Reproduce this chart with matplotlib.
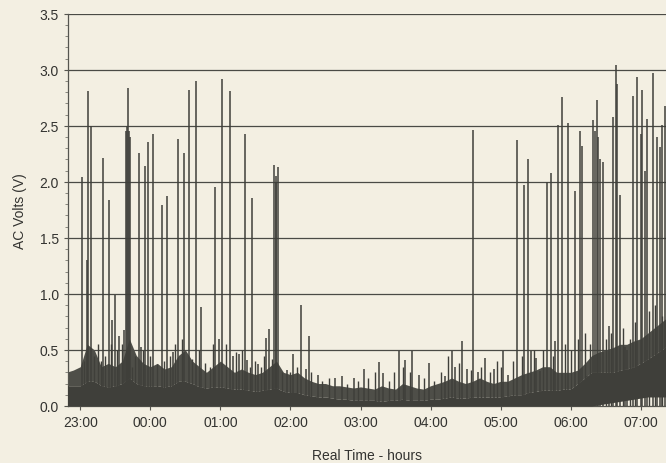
import matplotlib
matplotlib.use("Agg")
import matplotlib.pyplot as plt
import numpy as np

# time axis: hours after 23:00
tick_pos = [0, 1, 2, 3, 4, 5, 6, 7, 8]
tick_labels = ["23:00", "00:00", "01:00", "02:00", "03:00", "04:00", "05:00", "06:00", "07:00"]

# background noise envelope, sampled every 0.1 h from -0.2 h
env_t0 = -0.2
env_step = 0.1
env_floor = [0.18, 0.18,
             0.18, 0.22, 0.22, 0.18, 0.17, 0.18, 0.20, 0.25, 0.20, 0.18,
             0.18, 0.18, 0.17, 0.18, 0.22, 0.22, 0.20, 0.17, 0.16, 0.17,
             0.17, 0.16, 0.15, 0.15, 0.14, 0.13, 0.14, 0.15, 0.16, 0.13,
             0.12, 0.12, 0.10, 0.09, 0.08, 0.08, 0.07, 0.06, 0.06, 0.05,
             0.05, 0.05, 0.05, 0.04, 0.05, 0.05, 0.06, 0.05, 0.05, 0.05,
             0.06, 0.06, 0.07, 0.08, 0.07, 0.07, 0.08, 0.08, 0.08, 0.08,
             0.08, 0.09, 0.10, 0.10, 0.12, 0.13, 0.14, 0.14, 0.14, 0.15,
             0.15, 0.20, 0.25, 0.30, 0.30, 0.30, 0.30, 0.32, 0.33, 0.35,
             0.38, 0.42, 0.46, 0.50, 0.55]
env_top = [0.30, 0.32,
           0.35, 0.55, 0.50, 0.35, 0.38, 0.35, 0.40, 0.60, 0.45, 0.38,
           0.35, 0.38, 0.33, 0.35, 0.45, 0.50, 0.40, 0.35, 0.30, 0.35,
           0.40, 0.35, 0.30, 0.33, 0.30, 0.28, 0.30, 0.35, 0.40, 0.30,
           0.28, 0.30, 0.25, 0.22, 0.20, 0.20, 0.18, 0.18, 0.17, 0.16,
           0.17, 0.16, 0.15, 0.18, 0.16, 0.15, 0.20, 0.18, 0.16, 0.15,
           0.18, 0.20, 0.22, 0.25, 0.22, 0.20, 0.22, 0.25, 0.22, 0.20,
           0.22, 0.22, 0.25, 0.28, 0.30, 0.32, 0.35, 0.35, 0.30, 0.30,
           0.30, 0.32, 0.38, 0.45, 0.48, 0.50, 0.52, 0.55, 0.55, 0.58,
           0.60, 0.65, 0.70, 0.75, 0.80]
env_low = [0.0] * 76 + [0.01, 0.02, 0.03, 0.04, 0.05, 0.06, 0.07, 0.08, 0.08, 0.08, 0.08]

# large spikes (hours after 23:00, volts)
spike_t = [0.02, 0.10, 0.11, 0.15, 0.32, 0.41, 0.46, 0.50, 0.56, 0.62,
           0.65, 0.66, 0.68, 0.69, 0.71, 0.84, 0.87, 0.93, 0.97, 1.04,
           1.16, 1.24, 1.32, 1.40, 1.48, 1.55, 1.65, 1.73, 1.93, 1.98,
           2.03, 2.13, 2.18, 2.27, 2.35, 2.38, 2.45, 2.53, 2.65, 2.70,
           2.77, 2.79, 2.80, 2.82, 2.95, 3.04, 3.15, 3.22, 3.27, 3.40,
           3.63, 3.74, 3.91, 4.05, 4.26, 4.32, 4.55, 4.64, 4.74, 4.83,
           4.98, 5.21, 5.31, 5.35, 5.45, 5.52, 5.61, 5.68, 5.77, 5.90,
           6.04, 6.11, 6.24, 6.34, 6.39, 6.44, 6.51, 6.56, 6.66, 6.72,
           6.78, 6.82, 6.88, 6.96, 7.06, 7.13, 7.16, 7.23, 7.32, 7.35,
           7.38, 7.39, 7.42, 7.46, 7.55, 7.61, 7.64, 7.66, 7.71, 7.77,
           7.81, 7.89, 7.95, 8.00, 8.02, 8.06, 8.09, 8.17, 8.23, 8.27,
           8.31, 8.35]
spike_v = [2.04, 1.30, 2.81, 2.50, 2.21, 1.84, 0.77, 0.99, 0.62, 0.68,
           2.45, 2.50, 2.84, 2.45, 2.40, 2.26, 0.53, 2.14, 2.36, 2.43,
           1.79, 1.87, 0.48, 2.38, 2.26, 2.82, 2.90, 0.88, 1.95, 0.60,
           2.92, 2.81, 0.45, 0.46, 2.43, 0.41, 1.86, 0.37, 0.61, 0.69,
           2.15, 2.05, 2.00, 2.13, 0.32, 0.46, 0.90, 0.33, 0.62, 0.28,
           0.25, 0.27, 0.25, 0.33, 0.39, 0.29, 0.49, 0.41, 0.49, 0.28,
           0.38, 0.27, 0.49, 0.35, 0.58, 0.33, 2.46, 0.30, 0.43, 0.33,
           0.49, 0.28, 2.37, 1.97, 2.20, 0.49, 0.43, 0.31, 2.00, 2.08,
           0.58, 2.51, 2.76, 2.53, 1.92, 2.45, 2.32, 0.27, 2.55, 2.45,
           2.73, 2.40, 2.20, 2.18, 0.71, 2.58, 3.04, 2.87, 1.88, 0.53,
           0.50, 2.77, 2.94, 2.43, 2.82, 2.10, 2.56, 2.97, 2.40, 2.31,
           2.51, 2.68]

# small ripple spikes in the noise band
ripple_t = [0.05, 0.20, 0.25, 0.30, 0.36, 0.44, 0.53, 0.60, 0.74, 0.78,
            0.90, 1.00, 1.10, 1.20, 1.28, 1.35, 1.45, 1.60, 1.70, 1.78,
            1.85, 1.90, 2.08, 2.22, 2.31, 2.42, 2.50, 2.58, 2.62, 2.74,
            2.88, 3.00, 3.10, 3.30, 3.45, 3.55, 3.80, 3.97, 4.10, 4.20,
            4.40, 4.48, 4.60, 4.70, 4.90, 5.05, 5.15, 5.25, 5.40, 5.58,
            5.72, 5.85, 5.95, 6.00, 6.18, 6.30, 6.48, 6.60, 6.75, 6.92,
            7.00, 7.10, 7.20, 7.28, 7.50, 7.58, 7.75, 7.85, 7.92, 8.12,
            8.20, 8.30]
ripple_v = [0.40, 0.45, 0.55, 0.40, 0.45, 0.55, 0.50, 0.55, 0.35, 0.45,
            0.50, 0.45, 0.37, 0.40, 0.45, 0.55, 0.60, 0.42, 0.50, 0.38,
            0.35, 0.55, 0.55, 0.48, 0.50, 0.35, 0.40, 0.35, 0.45, 0.42,
            0.30, 0.30, 0.35, 0.30, 0.22, 0.25, 0.20, 0.22, 0.25, 0.30,
            0.22, 0.30, 0.35, 0.30, 0.25, 0.22, 0.30, 0.45, 0.38, 0.32,
            0.35, 0.30, 0.40, 0.35, 0.40, 0.45, 0.50, 0.50, 0.45, 0.55,
            0.50, 0.60, 0.65, 0.55, 0.60, 0.65, 0.70, 0.60, 0.75, 0.85,
            0.90, 0.80]

bg = "#f3efe2"
ink = "#3f3f3a"

plt.rcParams["font.family"] = ["Liberation Sans", "DejaVu Sans"]
fig = plt.figure(figsize=(6.66, 4.64), dpi=100, facecolor=bg)
ax = fig.add_axes([0.102, 0.123, 0.898, 0.845], facecolor=bg)

env_t = env_t0 + env_step * np.arange(len(env_floor))
ax.fill_between(env_t, env_floor, env_top, color="#4e4e48", lw=0, zorder=2)
ax.fill_between(env_t, env_low, env_floor, color=ink, lw=0, zorder=3)
ax.vlines(ripple_t, 0, ripple_v, colors=ink, lw=1.0, zorder=3)
ax.vlines(spike_t, 0, spike_v, colors=ink, lw=1.1, zorder=4)

ax.set_xlim(-0.176, 8.36)
ax.set_ylim(0, 3.5)
ax.set_yticks(np.arange(0, 3.51, 0.5))
ax.set_yticklabels([f"{v:.1f}" for v in np.arange(0, 3.51, 0.5)])
ax.set_yticks(np.arange(0, 3.51, 0.1), minor=True)
ax.set_xticks(tick_pos)
ax.set_xticklabels(tick_labels)
for y in np.arange(0.5, 3.51, 0.5):
    ax.axhline(y, color="#4a4a45", lw=0.9, zorder=1)

for s in ["top", "right"]:
    ax.spines[s].set_visible(False)
for s in ["left", "bottom"]:
    ax.spines[s].set_color("#55554f")
    ax.spines[s].set_linewidth(0.9)
ax.tick_params(axis="both", colors="#55554f", labelcolor="#333330", labelsize=10,
               direction="out", length=3, width=0.8)
ax.tick_params(axis="y", which="minor", length=2, width=0.6, colors="#77776f")

ax.set_ylabel("AC Volts (V)", fontsize=10, color="#333330", labelpad=9)
ax.set_xlabel("Real Time - hours", fontsize=10, color="#333330", labelpad=14)

fig.savefig("out.png", dpi=100, facecolor=bg)
